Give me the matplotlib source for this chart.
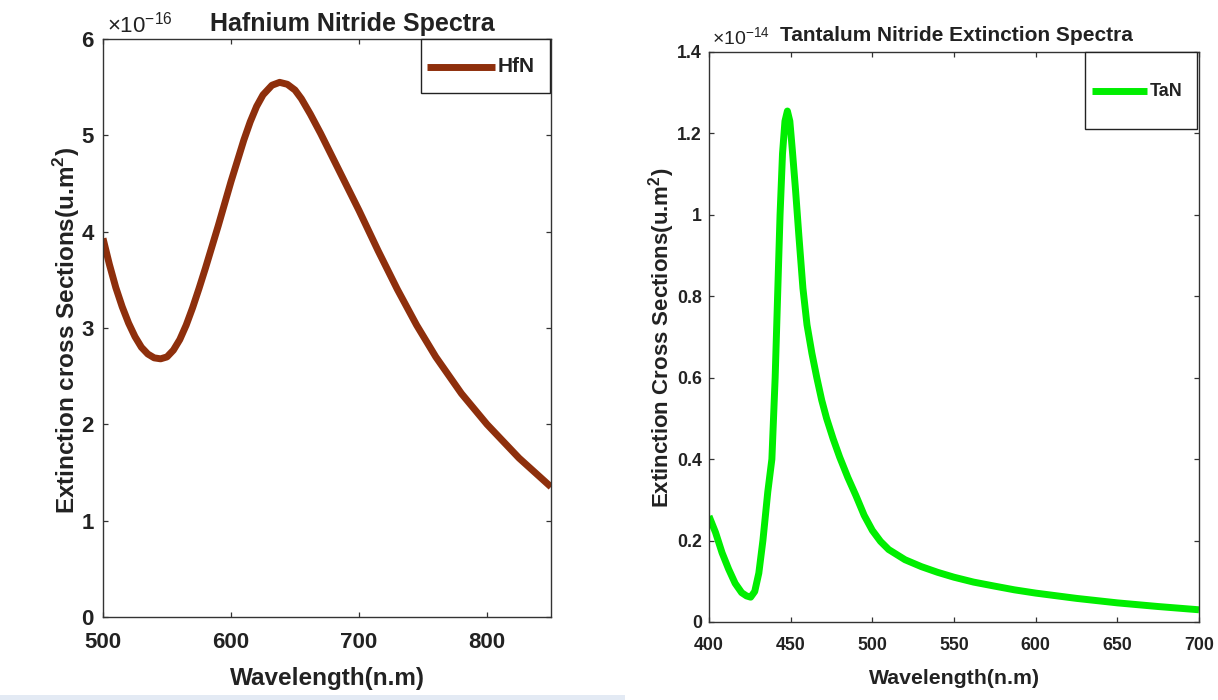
import matplotlib
matplotlib.use("Agg")
import matplotlib.pyplot as plt
from matplotlib.patches import Rectangle
from matplotlib.lines import Line2D

plt.rcParams['font.family'] = ['Liberation Sans', 'DejaVu Sans']
plt.rcParams['font.weight'] = 'bold'
plt.rcParams['mathtext.fontset'] = 'custom'
plt.rcParams['mathtext.rm'] = 'Liberation Sans:weight=normal'
plt.rcParams['mathtext.bf'] = 'Liberation Sans:bold'

# Hafnium nitride extinction spectrum (units of 1e-16 um^2)
hfn_wl = [500, 505, 510, 515, 520, 525, 530, 535, 540, 545, 550, 555, 560, 565,
          570, 575, 580, 590, 600, 610, 615, 620, 625, 632, 638, 644, 650, 655,
          662, 670, 685, 700, 715, 730, 745, 760, 780, 800, 825, 850]
hfn_ext = [3.93, 3.66, 3.42, 3.22, 3.05, 2.91, 2.80, 2.73, 2.69, 2.68, 2.70, 2.77,
           2.88, 3.03, 3.21, 3.41, 3.62, 4.06, 4.52, 4.95, 5.14, 5.30, 5.42, 5.52,
           5.55, 5.53, 5.47, 5.38, 5.22, 5.02, 4.62, 4.22, 3.80, 3.40, 3.03, 2.70,
           2.32, 2.00, 1.65, 1.35]

# Tantalum nitride extinction spectrum (units of 1e-14 um^2)
tan_wl = [400, 404, 408, 412, 416, 420, 423, 425.5, 428, 430.5, 433, 436, 438.5,
          440.5, 442, 443.5, 445, 446.5, 448, 449.5, 451, 453, 455, 457.5, 460,
          463, 466, 469, 472, 476, 480, 485, 490, 495, 500, 505, 510, 520, 530,
          540, 550, 562, 575, 587, 600, 625, 650, 675, 700]
tan_ext = [0.26, 0.22, 0.17, 0.13, 0.095, 0.072, 0.064, 0.061, 0.075, 0.12, 0.20,
           0.32, 0.40, 0.60, 0.80, 1.00, 1.15, 1.23, 1.255, 1.23, 1.16, 1.06, 0.95,
           0.82, 0.73, 0.66, 0.60, 0.545, 0.50, 0.45, 0.405, 0.355, 0.31, 0.262,
           0.225, 0.198, 0.178, 0.153, 0.136, 0.122, 0.110, 0.098, 0.088, 0.079,
           0.071, 0.058, 0.047, 0.038, 0.030]

hfn_xticks = [500, 600, 700, 800]
hfn_yticks = [0, 1, 2, 3, 4, 5, 6]
tan_xticks = [400, 450, 500, 550, 600, 650, 700]
tan_yticks = [0, 0.2, 0.4, 0.6, 0.8, 1.0, 1.2, 1.4]
tan_yticklabels = ['0', '0.2', '0.4', '0.6', '0.8', '1', '1.2', '1.4']

HFN_COLOR = '#8e2f0c'
TAN_COLOR = '#00ee00'
INK = '#222222'
W, H = 1218, 700
fig = plt.figure(figsize=(W / 100, H / 100), dpi=100)
fig.patch.set_facecolor('white')


def fx(px):
    return px / W


def fy(py):
    return (H - py) / H


# thin pale strip along the lower-left edge
fig.patches.append(Rectangle((0, 0), fx(625), 5 / H, transform=fig.transFigure,
                             facecolor='#e3eaf4', edgecolor='none', zorder=0))


def style_axes(ax, tick_size, xpad, ypad):
    for sp in ax.spines.values():
        sp.set_color('#333333')
        sp.set_linewidth(1.0)
    ax.tick_params(direction='in', length=3.6, width=0.9, color='#333333',
                   top=True, right=True, labelcolor=INK, labelsize=tick_size)
    ax.tick_params(axis='x', pad=xpad)
    ax.tick_params(axis='y', pad=ypad)
    for lab in ax.get_xticklabels() + ax.get_yticklabels():
        lab.set_fontweight('bold')


def boxed_key(box, seg, label, color, size):
    """Framed key: box=(x0, y0, x1, y1), seg=(x0, x1, y) in figure pixels."""
    x0, y0, x1, y1 = box
    fig.patches.append(Rectangle((fx(x0), fy(y1)), fx(x1) - fx(x0), fy(y0) - fy(y1),
                                 transform=fig.transFigure, facecolor='white',
                                 edgecolor=INK, linewidth=1.0, zorder=5))
    sx0, sx1, sy = seg
    fig.lines.append(Line2D([fx(sx0), fx(sx1)], [fy(sy), fy(sy)],
                            transform=fig.transFigure, color=color, lw=5.0,
                            solid_capstyle='butt', zorder=6))
    fig.text(fx(sx1 + 3), fy(sy), label, ha='left', va='center', fontsize=size,
             fontweight='bold', color=INK, zorder=7)


# ---- left panel: HfN ----
ax1 = fig.add_axes([fx(103), fy(617), fx(551) - fx(103), fy(39) - fy(617)])
ax1.plot(hfn_wl, hfn_ext, color=HFN_COLOR, lw=5.0, solid_capstyle='butt')
ax1.set_xlim(500, 850)
ax1.set_ylim(0, 6)
ax1.set_xticks(hfn_xticks)
ax1.set_yticks(hfn_yticks)
style_axes(ax1, 16, 11, 6.5)
ax1.set_xlabel('Wavelength(n.m)', fontsize=17.5, fontweight='bold', color=INK, va='center')
ax1.xaxis.set_label_coords(0.5, (617 - 678) / 578)
ax1.set_ylabel(r'Extinction cross Sections(u.m$^{\mathbf{2}}$)', fontsize=17.5,
               fontweight='bold', color=INK, va='center')
ax1.yaxis.set_label_coords((67 - 103) / 448, (617 - 331) / 578)
ax1.text(0.556, 1 + 8 / 578, 'Hafnium Nitride Spectra', transform=ax1.transAxes,
         ha='center', va='baseline', fontsize=18, fontweight='bold', color=INK)
ax1.text(4 / 448, 1 + 6 / 578, r'$\times10^{-16}$', transform=ax1.transAxes,
         ha='left', va='baseline', fontsize=16, color=INK)
boxed_key((421, 39, 550, 93), (427, 495, 67), 'HfN', HFN_COLOR, 15)

# ---- right panel: TaN ----
ax2 = fig.add_axes([fx(709), fy(622), fx(1199) - fx(709), fy(52) - fy(622)])
ax2.plot(tan_wl, tan_ext, color=TAN_COLOR, lw=5.0, solid_capstyle='butt')
ax2.set_xlim(400, 700)
ax2.set_ylim(0, 1.4)
ax2.set_xticks(tan_xticks)
ax2.set_yticks(tan_yticks)
ax2.set_yticklabels(tan_yticklabels)
style_axes(ax2, 12.8, 11, 5)
ax2.set_xlabel('Wavelength(n.m)', fontsize=15.3, fontweight='bold', color=INK, va='center')
ax2.xaxis.set_label_coords(0.5, (622 - 678) / 570)
ax2.set_ylabel(r'Extinction Cross Sections(u.m$^{\mathbf{2}}$)', fontsize=16,
               fontweight='bold', color=INK, va='center')
ax2.yaxis.set_label_coords((662 - 709) / 490, (622 - 338) / 570)
ax2.text(0.504, 1 + 11 / 570, 'Tantalum Nitride Extinction Spectra',
         transform=ax2.transAxes, ha='center', va='baseline', fontsize=15,
         fontweight='bold', color=INK)
ax2.text(3 / 490, 1 + 7 / 570, r'$\times10^{-14}$', transform=ax2.transAxes,
         ha='left', va='baseline', fontsize=14, color=INK)
boxed_key((1085, 52, 1197, 129), (1092, 1147, 91), 'TaN', TAN_COLOR, 13)

fig.savefig('out.png', dpi=100)
